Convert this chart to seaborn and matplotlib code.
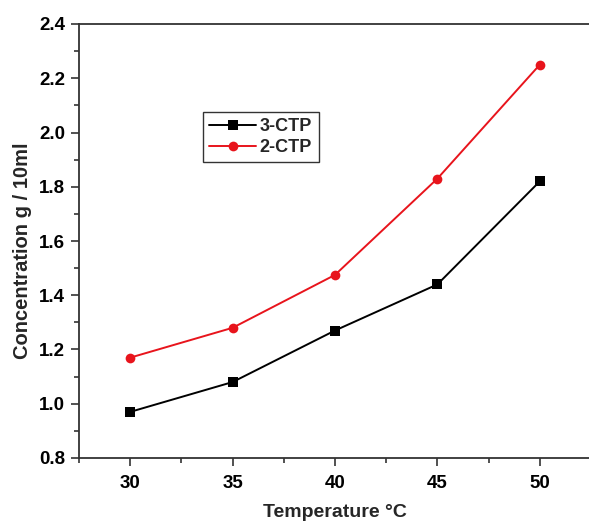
import matplotlib
matplotlib.use("Agg")
import matplotlib.pyplot as plt
import seaborn as sns
import pandas as pd
from matplotlib.ticker import MultipleLocator

temperature = [30, 35, 40, 45, 50]
ctp3 = [0.97, 1.08, 1.27, 1.44, 1.82]
ctp2 = [1.17, 1.28, 1.475, 1.83, 2.25]
series_names = ["3-CTP", "2-CTP"]

df = pd.DataFrame({
    "Temperature": temperature * 2,
    "Concentration": ctp3 + ctp2,
    "Series": [series_names[0]] * len(temperature) + [series_names[1]] * len(temperature),
})

sns.set_style("ticks")
plt.rcParams["font.family"] = ["Liberation Sans", "DejaVu Sans"]
plt.rcParams["font.weight"] = "bold"

fig = plt.figure(figsize=(5.89, 5.21), dpi=100)
W, H = 589, 521
ax = fig.add_axes([79 / W, 1 - 458 / H, 512 / W, 434 / H])

sns.lineplot(data=df, x="Temperature", y="Concentration", hue="Series", style="Series",
             hue_order=series_names, style_order=series_names,
             palette={"3-CTP": "black", "2-CTP": "#e8141c"},
             markers={"3-CTP": "s", "2-CTP": "o"}, dashes=False,
             markersize=7, markeredgewidth=0, linewidth=1.4, ax=ax)

ax.set_xlim(27.5, 52.5)
ax.set_ylim(0.8, 2.4)
ax.xaxis.set_major_locator(MultipleLocator(5))
ax.xaxis.set_minor_locator(MultipleLocator(2.5))
ax.yaxis.set_major_locator(MultipleLocator(0.2))
ax.yaxis.set_minor_locator(MultipleLocator(0.1))
ax.yaxis.set_major_formatter(matplotlib.ticker.FormatStrFormatter("%.1f"))
ax.tick_params(axis="both", which="major", direction="out", length=6, width=1.2,
               labelsize=13.5, colors="#333333", labelcolor="black", pad=4)
ax.tick_params(axis="x", which="major", pad=6)
ax.tick_params(axis="both", which="minor", direction="out", length=3.5, width=1.2, colors="#333333")
for lbl in ax.get_xticklabels() + ax.get_yticklabels():
    lbl.set_fontweight("bold")
for s in ax.spines.values():
    s.set_linewidth(1.3)
    s.set_color("#333333")
ax.spines["right"].set_visible(False)

ax.set_xlabel("Temperature °C", fontsize=14, fontweight="bold", labelpad=9)
ax.set_ylabel("Concentration g / 10ml", fontsize=14.5, fontweight="bold")
ax.yaxis.set_label_coords((32 - 79) / 512, (458 - 251) / 434)

leg = ax.legend(loc="upper left", bbox_to_anchor=((203 - 79) / 512, (458 - 112) / 434),
                frameon=True, fancybox=False, fontsize=13, handlelength=2.6,
                handletextpad=0.2, borderpad=0.35, labelspacing=0.2, borderaxespad=0)
leg.get_frame().set_edgecolor("black")
leg.get_frame().set_linewidth(1.0)
for t in leg.get_texts():
    t.set_fontweight("bold")

fig.savefig("out.png", dpi=100)
